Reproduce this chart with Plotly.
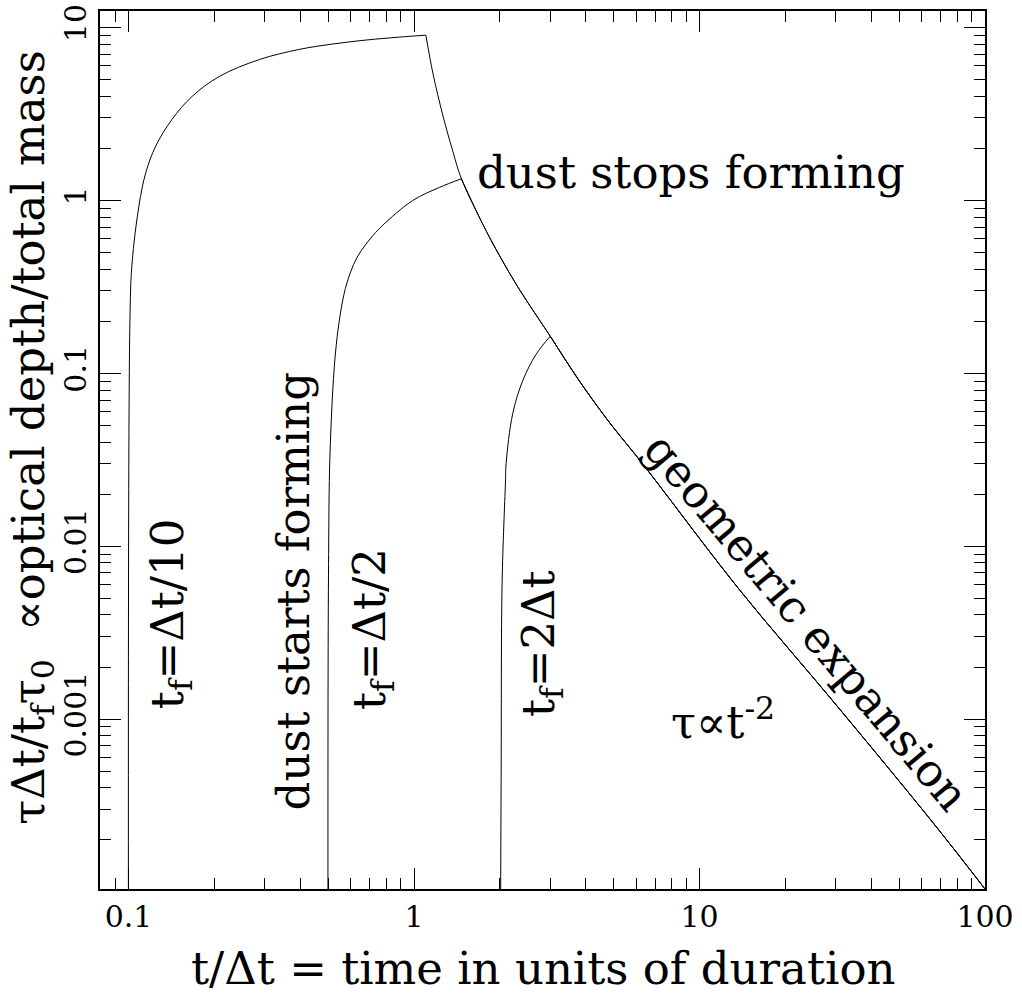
import plotly.graph_objects as go

# ---------------- data ----------------
# t_f = Δt/10 : rising part while dust forms
t_rise_a = [0.1, 0.1012, 0.1029, 0.1088, 0.1149, 0.1246, 0.1421, 0.1670, 0.2076,
            0.2869, 0.3962, 0.5170, 0.6787, 0.8880, 1.1]
y_rise_a = [1e-5, 0.219, 0.435, 0.936, 1.447, 2.068, 2.95, 4.00, 5.21,
            6.53, 7.48, 8.03, 8.47, 8.81, 9.04]

# t_f = Δt/2
t_rise_b = [0.5, 0.5016, 0.5092, 0.5342, 0.568, 0.5978, 0.6327, 0.6749, 0.720,
            0.777, 0.990, 1.228, 1.465]
y_rise_b = [1e-5, 0.0068, 0.0393, 0.147, 0.285, 0.381, 0.471, 0.552, 0.630,
            0.719, 1.0, 1.19, 1.335]

# t_f = 2Δt
t_rise_c = [2.0, 2.019, 2.035, 2.090, 2.102, 2.216, 2.403, 2.678, 3.0]
y_rise_c = [1e-5, 4.6e-4, 0.00618, 0.0232, 0.0302, 0.0584, 0.0907, 0.129, 0.164]

# geometric expansion after dust stops forming (shared by all curves)
t_decl = [1.1, 1.164, 1.262, 1.368, 1.465, 1.743, 1.994, 2.344, 3.0, 3.76, 4.79,
          6.33, 13.85, 29.3, 65.8, 100]
y_decl = [9.04, 5.46, 3.10, 1.92, 1.335, 0.726, 0.4786, 0.304, 0.164, 0.0923, 0.0531,
          0.02985, 0.00556, 0.001274, 2.51e-4, 1.04e-4]

# end of formation for each curve
t_stop = [1.1, 1.465, 3.0]

x_tickvals = [0.1, 1, 10, 100]
x_ticktext = ["0.1", "1", "10", "100"]
y_tickvals = [0.001, 0.01, 0.1, 1, 10]
y_ticktext = ["0.001", "0.01", "0.1", "1", "10"]

FONT = "DejaVu Serif"
BIG = 45
TICK = 30

fig = go.Figure()
line = dict(color="black", width=1)
for tr, yr in [(t_rise_a, y_rise_a), (t_rise_b, y_rise_b), (t_rise_c, y_rise_c)]:
    fig.add_trace(go.Scatter(x=tr, y=yr, mode="lines", line=dict(line, shape="spline"),
                             hoverinfo="skip", showlegend=False))
for ts in t_stop:
    xs = [t for t in t_decl if t >= ts]
    ys = [y for t, y in zip(t_decl, y_decl) if t >= ts]
    fig.add_trace(go.Scatter(x=xs, y=ys, mode="lines", line=dict(line, shape="spline"),
                             hoverinfo="skip", showlegend=False))

minor_x = [m * 10 ** d for d in range(-2, 3) for m in range(2, 10)]
minor_y = [m * 10 ** d for d in range(-5, 2) for m in range(2, 10)]

axis_common = dict(
    type="log", showgrid=False, zeroline=False, showline=True, linecolor="black",
    linewidth=1.5, mirror="ticks", ticks="inside", ticklen=21, tickwidth=1,
    tickcolor="black", tickfont=dict(family=FONT, size=TICK, color="black"),
    ticklabeloverflow="allow",
)

fig.update_xaxes(**axis_common, range=[-1.1, 2], tickmode="array",
                 tickvals=x_tickvals, ticktext=x_ticktext,
                 minor=dict(ticks="inside", ticklen=11, tickwidth=1, tickcolor="black",
                            tickmode="array", tickvals=minor_x, showgrid=False))
fig.update_yaxes(**axis_common, range=[-3.983, 1.096], tickmode="array",
                 tickvals=y_tickvals, ticktext=y_ticktext, tickangle=-90,
                 minor=dict(ticks="inside", ticklen=11, tickwidth=1, tickcolor="black",
                            tickmode="array", tickvals=minor_y, showgrid=False))

ann_font = dict(family=FONT, size=BIG, color="black")
annotations = [
    dict(text="t/Δt = time in units of duration", x=0.5, y=-0.0905, xanchor="center",
         yanchor="middle", textangle=0),
    dict(text="τΔt/t<sub>f</sub>τ<sub>0</sub>\u00a0 ∝optical depth/total mass", x=-0.078,
         y=0.514, xanchor="center", yanchor="middle", textangle=-90),
    dict(text="dust stops forming", x=0.4237, y=0.8158, xanchor="left", yanchor="middle",
         textangle=0),
    dict(text="dust starts forming", x=0.2181, y=0.339, xanchor="center", yanchor="middle",
         textangle=-90),
    dict(text="t<sub>f</sub>=Δt/10", x=0.0791, y=0.313, xanchor="center", yanchor="middle",
         textangle=-90),
    dict(text="t<sub>f</sub>=Δt/2", x=0.3073, y=0.296, xanchor="center", yanchor="middle",
         textangle=-90),
    dict(text="t<sub>f</sub>=2Δt", x=0.4983, y=0.2802, xanchor="center", yanchor="middle",
         textangle=-90),
    dict(text="τ∝t<sup>-2</sup>", x=0.704, y=0.1932, xanchor="center", yanchor="middle",
         textangle=0),
    dict(text="geometric expansion", x=0.7989, y=0.304, xanchor="center", yanchor="middle",
         textangle=50),
]
for a in annotations:
    a.update(xref="paper", yref="paper", showarrow=False, font=ann_font)

fig.update_layout(
    width=1022, height=1002, autosize=False,
    margin=dict(l=100, r=37, t=4, b=113),
    paper_bgcolor="white", plot_bgcolor="white",
    annotations=annotations, showlegend=False,
)

fig.write_html("out.html")
